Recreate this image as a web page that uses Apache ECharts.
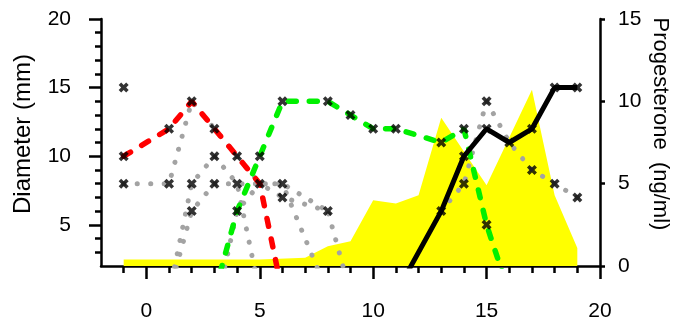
<!DOCTYPE html>
<html>
<head>
<meta charset="utf-8">
<script src="https://cdn.jsdelivr.net/npm/echarts@6/dist/echarts.min.js"></script>
<style>
  html, body { margin: 0; padding: 0; background: #fff; }
  #chart { width: 680px; height: 322px; }
</style>
</head>
<body>
<div id="chart"></div>
<script>
  // progesterone (right axis), yellow area
  var progDays = [-1, 5, 7, 8, 9, 10, 11, 12, 13, 15, 17, 18, 19];
  var progesterone = [0.4, 0.4, 0.5, 1.2, 1.5, 4.0, 3.8, 4.3, 9.0, 4.9, 10.7, 4.3, 1.1];

  // dominant follicles (diameter, mm)
  var redDays = [-1, 1, 2, 3, 4, 5, 6];
  var redDiam = [10, 12, 14, 12, 10, 8, 0];
  var greenDays = [3, 4, 5, 6, 8, 9, 10, 11, 13, 14, 15, 16];
  var greenDiam = [0, 6, 10, 14, 14, 13, 12, 12, 11, 12, 5, 0];
  var blackDays = [11, 13, 14, 15, 16, 17, 18, 19];
  var blackDiam = [0, 6, 10, 12, 11, 12, 15, 15];

  // subordinate follicles, grey dotted
  var grey1 = [[-1, 8], [1, 8], [2, 14], [3, 12], [4, 10], [5, 8], [6, 8], [8, 0]];
  var grey2 = [[1, 0], [2, 8], [3, 10], [4, 8], [5, 0]];
  var grey3 = [[1, 0], [2, 6], [3, 8], [4, 8], [5, 8], [6, 7], [8, 6], [9, 0]];
  var grey4 = [[3.2, 0], [4, 6], [5, 8], [6, 8], [8, 6]];
  var grey5 = [[13, 6], [14, 8], [15, 14], [16, 11], [17, 9], [18, 8], [19, 7]];

  // measured points (black crosses)
  var marks = [
    [-1, 15], [-1, 10], [-1, 8],
    [1, 12], [1, 8],
    [2, 14], [2, 8], [2, 6],
    [3, 12], [3, 10], [3, 8],
    [4, 10], [4, 8], [4, 6],
    [5, 10], [5, 8],
    [6, 14], [6, 8], [6, 7],
    [8, 14], [8, 6],
    [9, 13], [10, 12], [11, 12],
    [13, 11], [13, 6],
    [14, 12], [14, 10], [14, 8],
    [15, 14], [15, 12], [15, 5],
    [16, 11],
    [17, 12], [17, 9],
    [18, 15], [18, 8],
    [19, 15], [19, 7]
  ];

  var xMajor = [0, 5, 10, 15, 20];
  var xMinor = [-1, 1, 2, 3, 4, 6, 7, 8, 9, 11, 12, 13, 14, 16, 17, 18, 19];
  var yMajor = [5, 10, 15, 20];
  var yMinor = [3, 4, 6, 7, 8, 9, 11, 12, 13, 14, 16, 17, 18, 19];

  function zip(xs, ys) {
    return xs.map(function (x, i) { return [x, ys[i]]; });
  }

  var FONT = '"Liberation Sans", Arial, sans-serif';
  var cross = 'path://M0,3 L3,0 L6,3 L9,0 L12,3 L9,6 L12,9 L9,12 L6,9 L3,12 L0,9 L3,6 Z';
  var axisBlack = { color: '#000', width: 2.5 };

  var chart = echarts.init(document.getElementById('chart'));

  function greySeries(d) {
    return {
      type: 'line', data: d, symbol: 'none', z: 2, silent: true,
      lineStyle: { color: '#a3a3a3', width: 5, type: [0.1, 13.4], cap: 'round' }
    };
  }

  var option = {
    animation: false,
    grid: { left: 101, right: 80, top: 19, bottom: 55 },
    xAxis: [
      {
        type: 'value', min: -2, max: 20,
        axisLine: { onZero: false, lineStyle: axisBlack },
        axisTick: { customValues: xMajor, length: 13, lineStyle: axisBlack },
        axisLabel: { customValues: xMajor, margin: 35, fontSize: 21, color: '#000', fontFamily: FONT },
        splitLine: { show: false }
      },
      {
        type: 'value', min: -2, max: 20, position: 'bottom',
        axisLine: { show: false, onZero: false },
        axisTick: { customValues: xMinor, length: 7, lineStyle: axisBlack },
        axisLabel: { show: false },
        splitLine: { show: false }
      }
    ],
    yAxis: [
      {
        type: 'value', min: 2, max: 20, position: 'left',
        axisLine: { show: true, onZero: false, lineStyle: axisBlack },
        axisTick: { customValues: yMajor, length: 12, lineStyle: axisBlack },
        axisLabel: { customValues: yMajor, margin: 30, fontSize: 21, color: '#000', fontFamily: FONT },
        splitLine: { show: false }
      },
      {
        type: 'value', min: 0, max: 15, interval: 5, position: 'right',
        axisLine: { show: true, onZero: false, lineStyle: axisBlack },
        axisTick: { length: 5, lineStyle: axisBlack },
        axisLabel: { margin: 18, fontSize: 21, color: '#000', fontFamily: FONT },
        splitLine: { show: false }
      },
      {
        type: 'value', min: 2, max: 20, position: 'left',
        axisLine: { show: false, onZero: false },
        axisTick: { customValues: yMinor, length: 6, lineStyle: axisBlack },
        axisLabel: { show: false },
        splitLine: { show: false }
      }
    ],
    graphic: [
      {
        type: 'text', x: 23, y: 134, rotation: Math.PI / 2,
        style: { text: 'Diameter (mm)', font: '24px ' + FONT, fill: '#000', align: 'center', verticalAlign: 'middle' }
      },
      {
        type: 'text', x: 660, y: 124, rotation: -Math.PI / 2,
        style: { text: 'Progesterone  (ng/ml)', font: '22px ' + FONT, fill: '#000', align: 'center', verticalAlign: 'middle' }
      }
    ],
    series: [
      {
        type: 'line', yAxisIndex: 1, data: zip(progDays, progesterone), symbol: 'none', z: 1,
        lineStyle: { width: 0 }, areaStyle: { color: '#ffff00', opacity: 1 }
      },
      greySeries(grey1), greySeries(grey2), greySeries(grey3), greySeries(grey4), greySeries(grey5),
      {
        type: 'line', data: zip(redDays, redDiam), symbol: 'none', z: 3,
        lineStyle: { color: '#ff0000', width: 5.5, type: [8, 13], cap: 'round' }
      },
      {
        type: 'line', data: zip(greenDays, greenDiam), symbol: 'none', z: 3,
        lineStyle: { color: '#00f000', width: 5.5, type: [8, 13], cap: 'round' }
      },
      {
        type: 'line', data: zip(blackDays, blackDiam), symbol: 'none', z: 3,
        lineStyle: { color: '#000', width: 5 }
      },
      {
        type: 'scatter', data: marks, symbol: cross, symbolSize: 10, z: 5,
        itemStyle: { color: '#000' }
      }
    ]
  };

  chart.setOption(option);
</script>
</body>
</html>
